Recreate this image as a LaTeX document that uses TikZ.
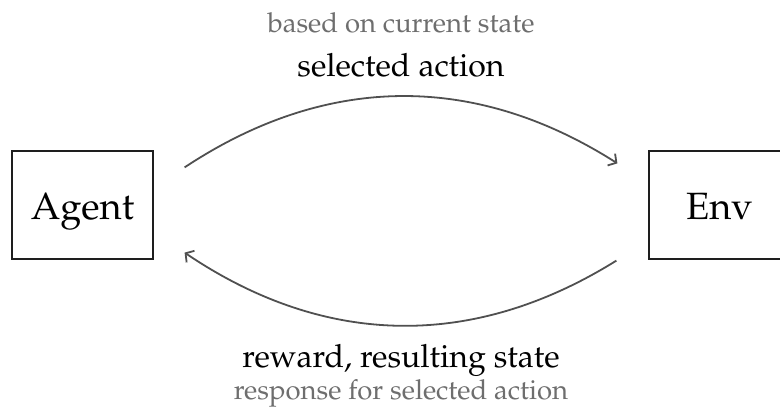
\documentclass[tikz,border=0pt]{standalone}
\usepackage[T1]{fontenc}
\usepackage{mathpazo}
\usetikzlibrary{arrows.meta}
\definecolor{linegray}{HTML}{505050}
\definecolor{textgray}{HTML}{6E6E6E}
\definecolor{boxline}{HTML}{1E1E1E}
\tikzset{
  x=1pt, y=1pt,
  boxnode/.style={draw=boxline, line width=1.2pt, minimum width=141pt, minimum height=108pt, inner sep=0pt, text height=40pt, text depth=10pt, font=\fontsize{38}{42}\selectfont},
  mainlabel/.style={anchor=base, inner sep=0pt, font=\fontsize{32}{36}\selectfont, text=black},
  sublabel/.style={anchor=base, inner sep=0pt, font=\fontsize{27.5}{30}\selectfont, text=textgray},
  flow/.style={draw=linegray, line width=1.8pt, -{Straight Barb[length=6pt,width=14pt]}}
}
\begin{document}
\begin{tikzpicture}
\useasboundingbox (0,0) rectangle (780,418);
\node[boxnode] (agent) at (82.5,213) {Agent};
\node[boxnode] (env) at (719.5,213) {Env};
\coordinate (a1) at ([xshift=31pt,yshift=-17pt]agent.north east);
\coordinate (e1) at ([xshift=-31pt,yshift=-13pt]env.north west);
\coordinate (e2) at ([xshift=-32pt,yshift=-1pt]env.south west);
\coordinate (a2) at ([xshift=31pt,yshift=7pt]agent.south east);
\draw[flow] (a1) to[bend left=33] (e1);
\draw[flow] (e2) to[bend left=33] (a2);
\node[sublabel] (based) at (401,385) {based on current state};
\node[mainlabel] (sel) at (401,341) {selected action};
\node[mainlabel] (rew) at (401,50) {reward, resulting state};
\node[sublabel] (resp) at (401,18) {response for selected action};
\end{tikzpicture}
\end{document}
